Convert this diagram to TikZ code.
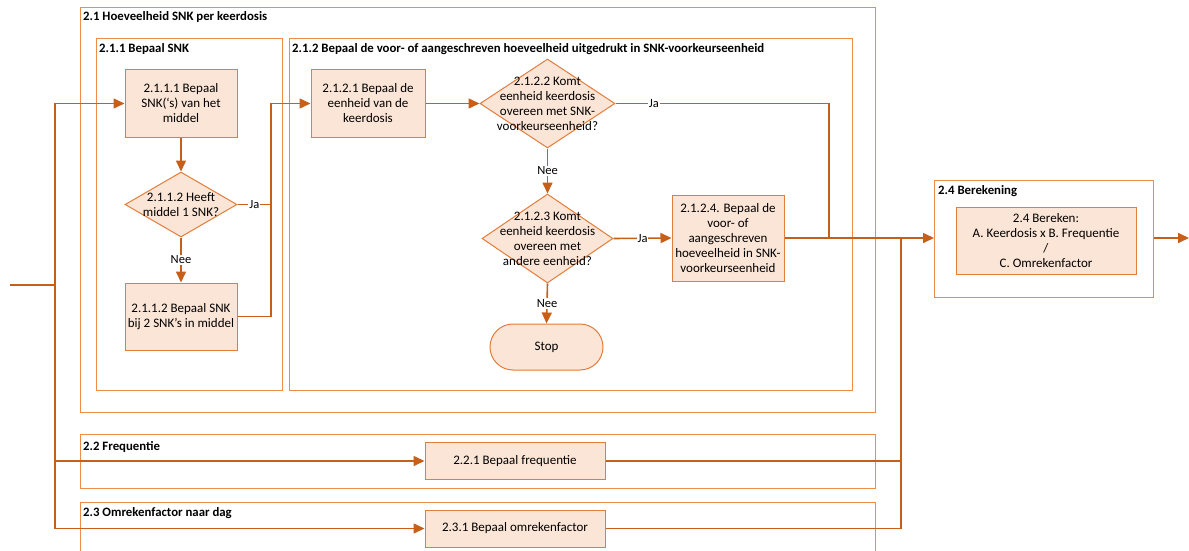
\documentclass[tikz,border=0pt]{standalone}
\usepackage{fontspec}
\setmainfont{Carlito}
\usetikzlibrary{shapes.geometric,arrows.meta}
\definecolor{boxc}{RGB}{226,125,60}
\definecolor{fillc}{RGB}{251,229,214}
\definecolor{linec}{RGB}{200,95,25}
\definecolor{contc}{RGB}{240,140,72}
\tikzset{
  cont/.style={draw=contc, line width=1.3pt, anchor=north west, inner sep=0pt},
  ttl/.style={anchor=west, inner sep=0pt, font=\fontsize{12.8}{14}\selectfont\bfseries},
  box/.style={draw=boxc, fill=fillc, line width=1pt, align=center, inner sep=0pt, font=\fontsize{13}{15}\selectfont},
  dia/.style={draw=boxc, fill=fillc, line width=1pt, diamond, inner sep=0pt},
  dtxt/.style={align=center, inner sep=0pt, font=\fontsize{13}{15}\selectfont},
  conn/.style={draw=linec, line width=1.6pt},
  arr/.style={conn, -{Triangle[length=11pt,width=10pt]}},
  lbl/.style={fill=white, inner sep=1pt, font=\fontsize{12.5}{14}\selectfont},
}
\begin{document}
\begin{tikzpicture}[x=1pt,y=-1pt]
\clip (0,0) rectangle (1189,551);
\fill[white] (0,0) rectangle (1189,551);
% containers
\node[cont, minimum width=795, minimum height=405] (c21) at (80,7) {};
\node[ttl] (t21) at (83,17.5) {2.1 Hoeveelheid SNK per keerdosis};
\node[cont, minimum width=186, minimum height=352] (c211) at (96,38) {};
\node[ttl] (t211) at (99,49) {2.1.1 Bepaal SNK};
\node[cont, minimum width=563, minimum height=352] (c212) at (289,38) {};
\node[ttl] (t212) at (292,49) {2.1.2 Bepaal de voor- of aangeschreven hoeveelheid uitgedrukt in SNK-voorkeurseenheid};
\node[cont, minimum width=795, minimum height=54] (c22) at (80,434) {};
\node[ttl] (t22) at (83,447) {2.2 Frequentie};
\node[cont, minimum width=795, minimum height=70] (c23) at (80,502) {};
\node[ttl] (t23) at (83,513) {2.3 Omrekenfactor naar dag};
\node[cont, minimum width=219, minimum height=117] (c24) at (934,180) {};
\node[ttl] (t24) at (938,191) {2.4 Berekening};
% shapes
\node[box, minimum width=112, minimum height=67] (b1111) at (181,103.5) {2.1.1.1 Bepaal\\SNK(‘s) van het\\middel};
\node[dia, minimum width=112, minimum height=65] (d1112) at (181,204.5) {};
\node[dtxt] (d1112t) at (181,204.5) {2.1.1.2 Heeft\\middel 1 SNK?};
\node[box, minimum width=112, minimum height=67] (b1112) at (181,316.5) {2.1.1.2 Bepaal SNK\\bij 2 SNK’s in middel};
\node[box, minimum width=114, minimum height=67] (b1211) at (368,103.5) {2.1.2.1 Bepaal de\\eenheid van de\\keerdosis};
\node[dia, minimum width=135, minimum height=89] (d1212) at (547.5,103.5) {};
\node[dtxt] (d1212t) at (547.5,103.5) {2.1.2.2 Komt\\eenheid keerdosis\\overeen met SNK-\\voorkeurseenheid?};
\node[dia, minimum width=131, minimum height=89] (d1213) at (547.5,238.5) {};
\node[dtxt] (d1213t) at (547.5,238.5) {2.1.2.3 Komt\\eenheid keerdosis\\overeen met\\andere eenheid?};
\node[box, minimum width=112, minimum height=86] (b1214) at (728,238) {2.1.2.4. Bepaal de\\voor- of\\aangeschreven\\hoeveelheid in SNK-\\voorkeurseenheid};
\node[box, rounded corners=23pt, minimum width=113, minimum height=46] (stop) at (546.5,347) {Stop};
\node[box, minimum width=180, minimum height=67] (b24) at (1046,240.5) {2.4 Bereken:\\A. Keerdosis x B. Frequentie\\/\\C. Omrekenfactor};
\node[box, minimum width=180, minimum height=37] (b221) at (515,461) {2.2.1 Bepaal frequentie};
\node[box, minimum width=180, minimum height=37] (b231) at (515,528.5) {2.3.1 Bepaal omrekenfactor};
% coordinates
\coordinate (start) at (10,285);
\coordinate (j0) at (55,285);
\coordinate (jA) at (271,204.5);
\coordinate (jB) at (829,238);
\coordinate (jC) at (901,238);
\coordinate (out) at (1189,238);
% connectors
\draw[conn] (start) -- (j0);
\draw[arr] (j0) |- (b1111.west);
\draw[arr] (j0) |- (b221.west);
\draw[arr] (j0) |- (b231.west);
\draw[arr] (b1111.south) -- (d1112.north);
\draw[arr] (d1112.south) -- node[lbl]{Nee} (b1112.north);
\draw[arr] (d1112.east) -- node[lbl]{Ja} (jA) |- (b1211.west);
\draw[conn] (b1112.east) -| (jA);
\draw[arr] (b1211.east) -- (d1212.west);
\draw[conn] (d1212.east) -| node[lbl, pos=0.09]{Ja} (jB);
\draw[arr] (d1212.south) -- node[lbl]{Nee} (d1213.north);
\draw[arr] (d1213.east) -- node[lbl]{Ja} (b1214.west);
\draw[arr] (d1213.south) -- node[lbl]{Nee} (stop.north);
\draw[arr] (b1214.east) -- (c24.west |- b1214.east);
\draw[conn] (b221.east) -| (jC);
\draw[conn] (b231.east) -| (jC);
\draw[arr] (c24.east |- out) -- (out);
\end{tikzpicture}
\end{document}
